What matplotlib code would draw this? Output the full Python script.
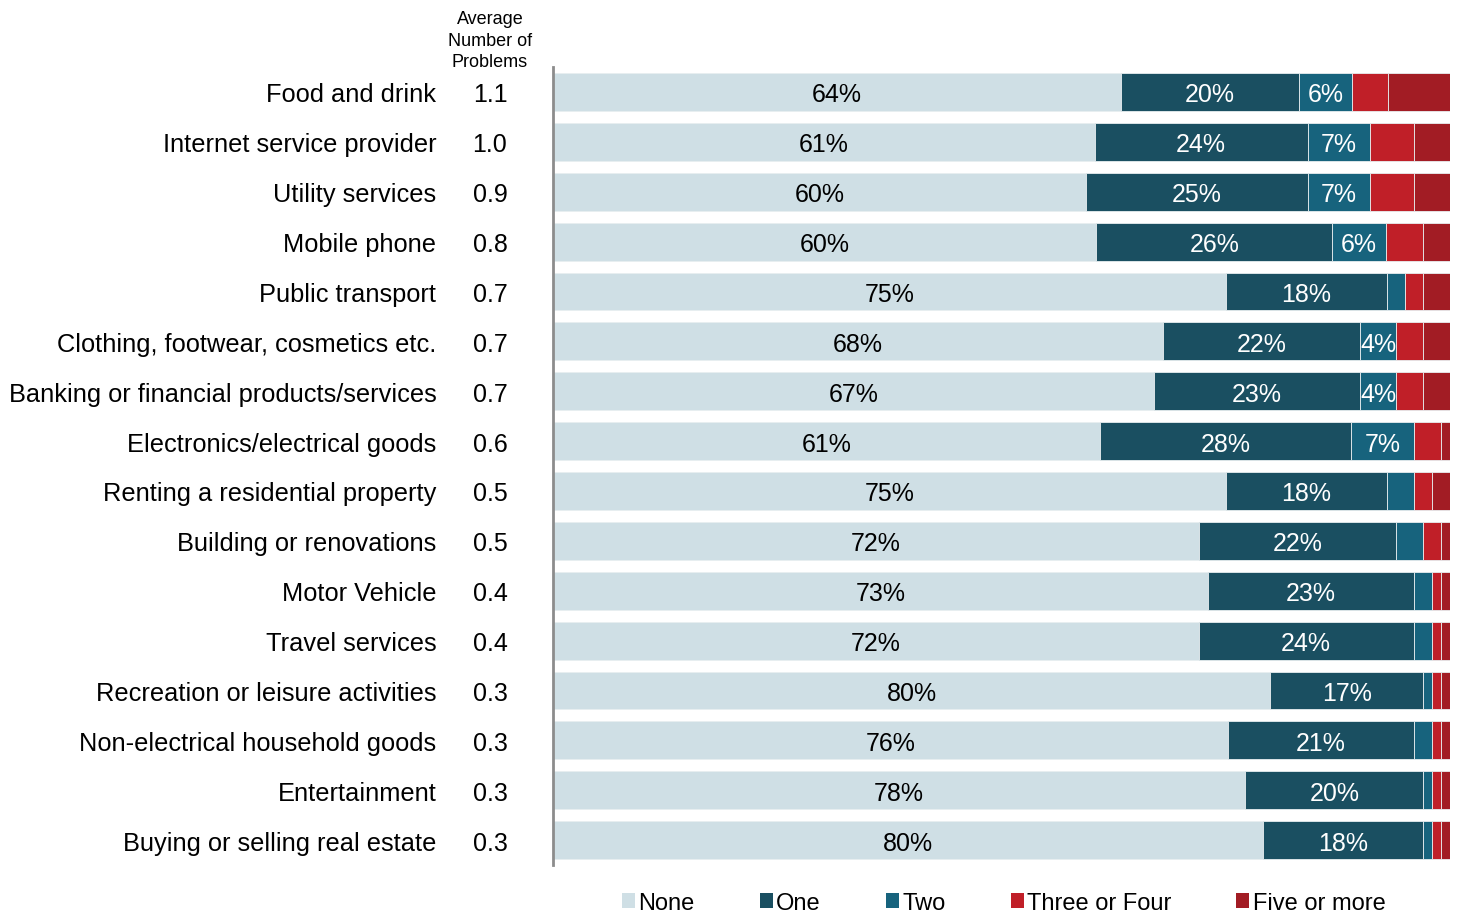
import numpy as np
import matplotlib
matplotlib.use('Agg')
from matplotlib import pyplot as plt
from matplotlib.patches import Patch

plt.rcParams['font.family'] = ['Liberation Sans', 'DejaVu Sans']

categories = ['Food and drink', 'Internet service provider', 'Utility services', 'Mobile phone',
              'Public transport', 'Clothing, footwear, cosmetics etc.',
              'Banking or financial products/services', 'Electronics/electrical goods',
              'Renting a residential property', 'Building or renovations', 'Motor Vehicle',
              'Travel services', 'Recreation or leisure activities', 'Non-electrical household goods',
              'Entertainment', 'Buying or selling real estate']
avg_problems = [1.1, 1.0, 0.9, 0.8, 0.7, 0.7, 0.7, 0.6, 0.5, 0.5, 0.4, 0.4, 0.3, 0.3, 0.3, 0.3]

none = [64, 61, 60, 60, 75, 68, 67, 61, 75, 72, 73, 72, 80, 76, 78, 80]
one = [20, 24, 25, 26, 18, 22, 23, 28, 18, 22, 23, 24, 17, 21, 20, 18]
two = [6, 7, 7, 6, 2, 4, 4, 7, 3, 3, 2, 2, 1, 2, 1, 1]
three_four = [4, 5, 5, 4, 2, 3, 3, 3, 2, 2, 1, 1, 1, 1, 1, 1]
five_plus = [7, 4, 4, 3, 3, 3, 3, 1, 2, 1, 1, 1, 1, 1, 1, 1]

series = ['None', 'One', 'Two', 'Three or Four', 'Five or more']
colors = ['#cfdfe5', '#1a4f61', '#17637d', '#c01f28', '#a21c24']

data = np.array([none, one, two, three_four, five_plus], dtype=float)
shares = data / data.sum(axis=0) * 100

fig = plt.figure(figsize=(14.57, 9.12), dpi=100)
ax = fig.add_axes([0.3795, 0.0504, 0.6155, 0.875])

y = np.arange(len(categories))
left = np.zeros(len(categories))
for i, name in enumerate(series):
    ax.barh(y, shares[i], left=left, height=0.76, color=colors[i],
            edgecolor='#e8eef0', linewidth=0.6, label=name)
    for j in range(len(categories)):
        val = data[i, j]
        if i < 2 or (i == 2 and val >= 4):
            ax.text(left[j] + shares[i, j] / 2, y[j], f'{val:.0f}%', ha='center',
                    va='center_baseline', fontsize=18, color='black' if i == 0 else 'white')
    left += shares[i]

ax.set_xlim(0, 100)
ax.set_ylim(len(categories) - 0.5, -0.5)
ax.set_yticks(y)
ax.set_yticklabels(categories, fontsize=18.3)
for lab in ax.get_yticklabels():
    lab.set_va('center_baseline')
ax.tick_params(axis='y', length=0, pad=84)
ax.set_xticks([])
for s in ['top', 'right', 'bottom']:
    ax.spines[s].set_visible(False)
ax.spines['left'].set_color('#8c8c8c')
ax.spines['left'].set_linewidth(2)

trans = ax.get_yaxis_transform()
for j, v in enumerate(avg_problems):
    ax.text(-0.0702, y[j], f'{v:.1f}', transform=trans, ha='center', va='center_baseline',
            fontsize=18)
fig.text(490 / 1457, 1 - 41 / 912, 'Average\nNumber of\nProblems', ha='center', va='center',
         fontsize=13, linespacing=1.35)

handles = [Patch(facecolor=c, label=s) for c, s in zip(colors, series)]
fig.legend(handles=handles, loc='center', bbox_to_anchor=(0.689, 0.009), ncol=5, frameon=False,
           fontsize=17, handlelength=0.55, handleheight=0.55, handletextpad=0.15,
           columnspacing=2.75)

fig.savefig('out.png', dpi=100)
